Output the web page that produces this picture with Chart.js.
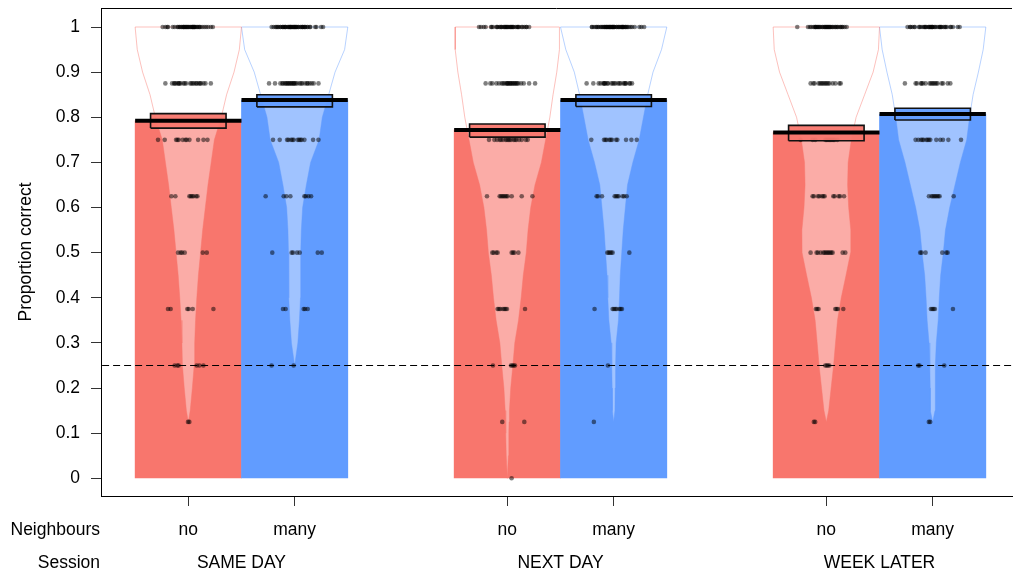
<!DOCTYPE html>
<html>
<head>
<meta charset="utf-8">
<script src="https://cdn.jsdelivr.net/npm/chart.js@4.4.1/dist/chart.umd.min.js"></script>
<style>
  html, body { margin: 0; padding: 0; background: #fff; }
  #wrap { width: 1016px; height: 577px; }
</style>
</head>
<body>
<div id="wrap"><canvas id="myChart"></canvas></div>
<script>
// groups (session x neighbours), left to right
const sessions = ["SAME DAY", "NEXT DAY", "WEEK LATER"];
const neighbours = ["no", "many", "no", "many", "no", "many"];
const groupPos = [1, 2, 4, 5, 7, 8];
const sessionPos = [1.5, 4.5, 7.5];

// mean proportion correct and inference band per group
const means = [0.792, 0.838, 0.772, 0.838, 0.766, 0.807];
const bandLow = [0.776, 0.823, 0.756, 0.824, 0.748, 0.794];
const bandHigh = [0.808, 0.850, 0.785, 0.850, 0.782, 0.820];

// raw scores: number of participants at each score level
const scoreLevels = [0, 0.125, 0.25, 0.375, 0.5, 0.625, 0.75, 0.875, 1];
const countsSameNo = [0, 2, 6, 6, 6, 8, 12, 24, 44];
const countsSameMany = [0, 0, 2, 5, 7, 8, 14, 28, 50];
const countsNextNo = [1, 2, 5, 8, 8, 11, 18, 26, 40];
const countsNextMany = [0, 1, 1, 8, 6, 10, 12, 24, 54];
const countsWeekNo = [0, 2, 4, 7, 14, 12, 12, 16, 40];
const countsWeekMany = [0, 2, 3, 5, 6, 9, 14, 18, 40];

// bean (density) half widths at each level, null = outside data range
const beanLevels = [1, 0.95, 0.9, 0.85, 0.8, 0.75, 0.7, 0.65, 0.6, 0.55, 0.5, 0.45, 0.4, 0.35, 0.3, 0.25, 0.2, 0.15, 0.125, 0.1, 0.05, 0];
const beanSameNo = [0.50, 0.48, 0.43, 0.36, 0.31, 0.245, 0.215, 0.185, 0.16, 0.135, 0.115, 0.095, 0.08, 0.068, 0.06, 0.055, 0.038, 0.018, 0, null, null, null];
const beanSameMany = [0.50, 0.47, 0.38, 0.32, 0.26, 0.23, 0.15, 0.11, 0.075, 0.063, 0.058, 0.056, 0.055, 0.045, 0.03, 0, null, null, null, null, null, null];
const beanNextNo = [0.49, 0.49, 0.465, 0.43, 0.40, 0.36, 0.32, 0.26, 0.22, 0.195, 0.178, 0.15, 0.13, 0.105, 0.07, 0.052, 0.032, 0.02, 0.016, 0.014, 0.01, 0];
const beanNextMany = [0.50, 0.45, 0.37, 0.32, 0.28, 0.24, 0.18, 0.13, 0.11, 0.09, 0.076, 0.062, 0.055, 0.045, 0.023, 0.018, 0.014, 0.012, 0, null, null, null];
const beanWeekNo = [0.50, 0.49, 0.44, 0.36, 0.28, 0.235, 0.205, 0.20, 0.21, 0.23, 0.228, 0.185, 0.14, 0.105, 0.086, 0.068, 0.045, 0.022, 0, null, null, null];
const beanWeekMany = [0.50, 0.475, 0.43, 0.38, 0.347, 0.32, 0.26, 0.21, 0.16, 0.12, 0.10, 0.075, 0.062, 0.052, 0.034, 0.027, 0.023, 0.022, 0, null, null, null];

const chanceLevel = 0.25;
const yTicks = [0, 0.1, 0.2, 0.3, 0.4, 0.5, 0.6, 0.7, 0.8, 0.9, 1];
const yTickLabels = ["0", "0.1", "0.2", "0.3", "0.4", "0.5", "0.6", "0.7", "0.8", "0.9", "1"];

const counts = [countsSameNo, countsSameMany, countsNextNo, countsNextMany, countsWeekNo, countsWeekMany];
const beans = [beanSameNo, beanSameMany, beanNextNo, beanNextMany, beanWeekNo, beanWeekMany];

const xMin = 0.179, xMax = 8.746;
const FONT = { family: "Arial, 'Liberation Sans', sans-serif", size: 17.5 };
const rgbOf = { no: "248,118,109", many: "97,156,255" };
const col = (i, a) => "rgba(" + rgbOf[neighbours[i]] + "," + a + ")";

const datasets = [];

// bars up to the mean
datasets.push({
  type: "bar",
  data: groupPos.map((x, i) => ({ x: x, y: means[i] })),
  backgroundColor: groupPos.map((x, i) => col(i, 1)),
  borderWidth: 0,
  categoryPercentage: 1,
  barPercentage: 1,
  order: 6
});

// beans
beans.forEach(function (w, g) {
  let right = [], left = [];
  for (let k = beanLevels.length - 1; k >= 0; k--) {
    if (w[k] === null) continue;
    right.push({ x: groupPos[g] + w[k], y: beanLevels[k] });
  }
  for (let k = 0; k < beanLevels.length; k++) {
    if (w[k] === null) continue;
    left.push({ x: groupPos[g] - w[k], y: beanLevels[k] });
  }
  datasets.push({
    type: "line",
    data: right.concat(left),
    fill: "shape",
    backgroundColor: "rgba(255,255,255,0.4)",
    borderColor: col(g, 0.45),
    borderWidth: 1,
    pointRadius: 0,
    tension: 0,
    order: 5
  });
});

// raw points, spread sideways with a fixed low-discrepancy pattern
let pts = [];
counts.forEach(function (c, g) {
  c.forEach(function (n, li) {
    for (let k = 0; k < n; k++) {
      let u = ((k + 1) * 0.6180339 + li * 0.137 + g * 0.21) % 1;
      let v = ((k + 1) * 0.7548777 + li * 0.291 + g * 0.05) % 1;
      let w = ((k + 1) * 0.5698403 + li * 0.173 + g * 0.11) % 1;
      pts.push({ x: groupPos[g] + (u + v + w - 1.5) * 0.22, y: scoreLevels[li] });
    }
  });
});
datasets.push({
  type: "line",
  data: pts,
  showLine: false,
  pointRadius: 2.3,
  pointBorderWidth: 0,
  pointBackgroundColor: "rgba(0,0,0,0.5)",
  order: 4
});

// inference bands
groupPos.forEach(function (x, g) {
  const h = 0.355;
  datasets.push({
    type: "line",
    data: [
      { x: x - h, y: bandLow[g] }, { x: x + h, y: bandLow[g] },
      { x: x + h, y: bandHigh[g] }, { x: x - h, y: bandHigh[g] },
      { x: x - h, y: bandLow[g] }
    ],
    fill: "shape",
    backgroundColor: col(g, 0.95),
    borderColor: "#111",
    borderWidth: 1.6,
    pointRadius: 0,
    order: 3
  });
});

// mean lines
groupPos.forEach(function (x, g) {
  datasets.push({
    type: "line",
    data: [{ x: x - 0.5, y: means[g] }, { x: x + 0.5, y: means[g] }],
    borderColor: "#000",
    borderWidth: 4,
    borderCapStyle: "butt",
    pointRadius: 0,
    order: 1
  });
});

// chance line
datasets.push({
  type: "line",
  data: [{ x: xMin - 0.3, y: chanceLevel }, { x: xMax + 0.3, y: chanceLevel }],
  borderColor: "#000",
  borderWidth: 1.1,
  borderDash: [7, 4],
  pointRadius: 0,
  order: 0
});

const extras = {
  id: "extras",
  afterDraw(chart) {
    const { ctx, chartArea, scales } = chart;
    ctx.save();
    ctx.strokeStyle = "#000";
    ctx.lineWidth = 1;
    ctx.beginPath();
    ctx.moveTo(chartArea.left, chartArea.top + 0.5);
    ctx.lineTo(chartArea.right, chartArea.top + 0.5);
    ctx.stroke();
    ctx.font = FONT.size + "px " + FONT.family;
    ctx.fillStyle = "#000";
    ctx.textAlign = "right";
    ctx.textBaseline = "middle";
    ctx.fillText("Neighbours", chartArea.left - 1, scales.x.top + 34);
    ctx.fillText("Session", chartArea.left - 1, scales.x2.top + 17);
    ctx.restore();
  }
};

new Chart(document.getElementById("myChart"), {
  type: "bar",
  data: { datasets: datasets },
  plugins: [extras],
  options: {
    responsive: true,
    maintainAspectRatio: false,
    animation: false,
    devicePixelRatio: 1,
    layout: { padding: { top: 8, left: 0, right: 0, bottom: 0 } },
    plugins: { legend: { display: false }, tooltip: { enabled: false } },
    scales: {
      x: {
        type: "linear",
        min: xMin,
        max: xMax,
        offset: false,
        weight: 0,
        afterBuildTicks: (s) => { s.ticks = groupPos.map((v) => ({ value: v })); },
        afterFit: (s) => { s.height = 50; s.paddingLeft = 0; s.paddingRight = 0; },
        ticks: { callback: (v, i) => neighbours[i], padding: 14, color: "#000", font: FONT, maxRotation: 0, autoSkip: false },
        grid: { drawOnChartArea: false, tickLength: 10, color: "#333", offset: false },
        border: { color: "#000", width: 1 }
      },
      x2: {
        type: "linear",
        position: "bottom",
        min: xMin,
        max: xMax,
        offset: false,
        weight: 1,
        afterBuildTicks: (s) => { s.ticks = sessionPos.map((v) => ({ value: v })); },
        afterFit: (s) => { s.height = 31; s.paddingLeft = 0; s.paddingRight = 0; },
        ticks: { callback: (v, i) => sessions[i], padding: 7, color: "#000", font: FONT, maxRotation: 0, autoSkip: false },
        grid: { display: false, drawTicks: false },
        border: { display: false }
      },
      y: {
        type: "linear",
        min: -0.0392,
        max: 1.0421,
        afterBuildTicks: (s) => { s.ticks = yTicks.map((v) => ({ value: v })); },
        afterFit: (s) => { s.width = 101; s.paddingTop = 0; s.paddingBottom = 0; },
        ticks: { callback: (v, i) => yTickLabels[i], padding: 11, color: "#000", font: FONT },
        grid: { drawOnChartArea: false, tickLength: 10, color: "#333" },
        border: { color: "#000", width: 1 },
        title: { display: true, text: "Proportion correct", color: "#000", font: FONT, padding: { top: 16, bottom: 0 } }
      }
    }
  }
});
</script>
</body>
</html>
